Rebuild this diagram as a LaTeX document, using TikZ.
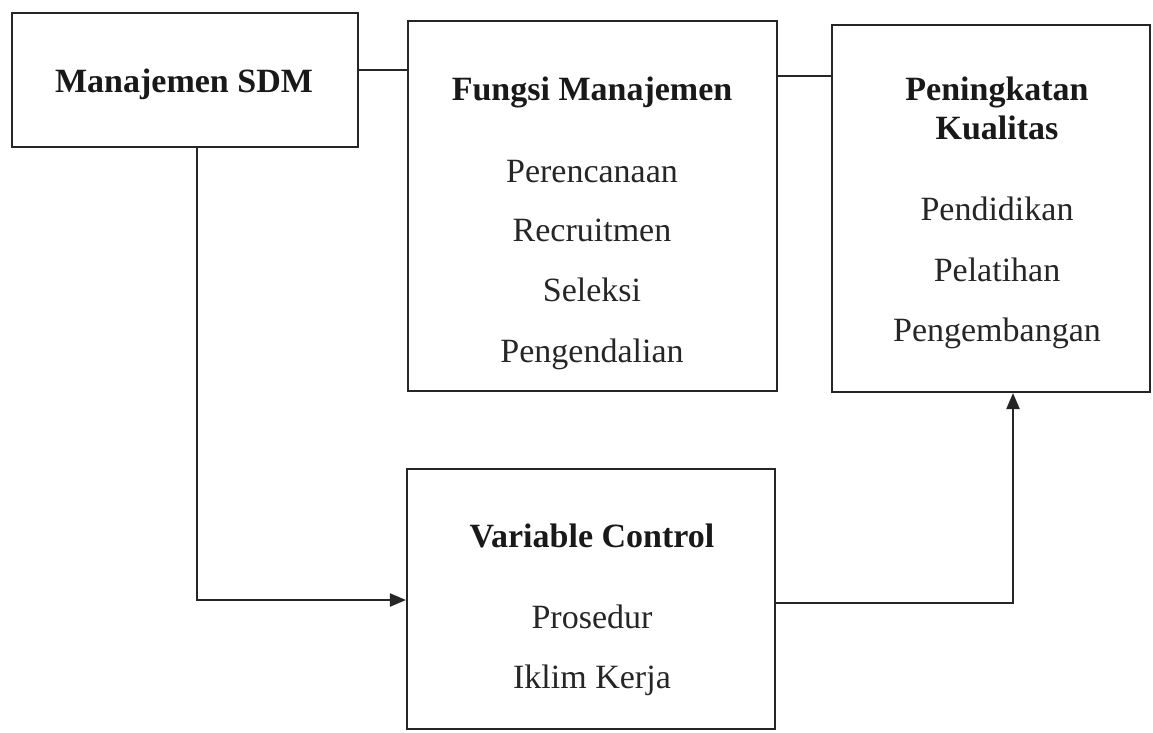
\documentclass[tikz,border=0pt]{standalone}
\usepackage{fontspec}
\setmainfont{Liberation Serif}
\usetikzlibrary{arrows.meta}
\begin{document}
\begin{tikzpicture}[x=1pt,y=-1pt,
  box/.style={draw=black!85, line width=2.1pt, rectangle, inner sep=0pt},
  title/.style={font=\fontsize{34}{38}\selectfont\bfseries, text=black!90, anchor=base, inner sep=0pt},
  item/.style={font=\fontsize{34}{38}\selectfont, text=black!85, anchor=base, inner sep=0pt},
  conn/.style={draw=black!85, line width=2.1pt},
  arr/.style={conn, -{Triangle[length=16pt,width=13pt]}}]
\useasboundingbox (0,0) rectangle (1153,732);
\fill[white] (0,0) rectangle (1153,732);
% boxes
\node[box, minimum width=346pt, minimum height=134pt] (b1) at (185,80) {};
\node[box, minimum width=369pt, minimum height=370pt] (b2) at (592.5,206) {};
\node[box, minimum width=318pt, minimum height=367pt] (b3) at (991,208.5) {};
\node[box, minimum width=368pt, minimum height=260pt] (b4) at (591,599) {};
% texts
\node[title] (t1) at (184,92) {Manajemen SDM};
\node[title] (t2) at (592,100) {Fungsi Manajemen};
\node[item] (t2a) at (592,182) {Perencanaan};
\node[item] (t2b) at (592,241) {Recruitmen};
\node[item] (t2c) at (592,301) {Seleksi};
\node[item] (t2d) at (592,362) {Pengendalian};
\node[title] (t3) at (997,100) {Peningkatan};
\node[title] (t3b) at (997,139) {Kualitas};
\node[item] (t3c) at (997,220) {Pendidikan};
\node[item] (t3d) at (997,281) {Pelatihan};
\node[item] (t3e) at (997,341) {Pengembangan};
\node[title] (t4) at (592,547) {Variable Control};
\node[item] (t4a) at (592,628) {Prosedur};
\node[item] (t4b) at (592,688) {Iklim Kerja};
% connectors
\draw[conn] (b1.east |- 0,70) -- (b2.west |- 0,70);
\draw[conn] (b2.east |- 0,76) -- (b3.west |- 0,76);
\draw[arr] (b1.south -| 197,0) |- (b4.west |- 0,600);
\draw[arr] (b4.east |- 0,603) -| (b3.south -| 1013,0);
\end{tikzpicture}
\end{document}
